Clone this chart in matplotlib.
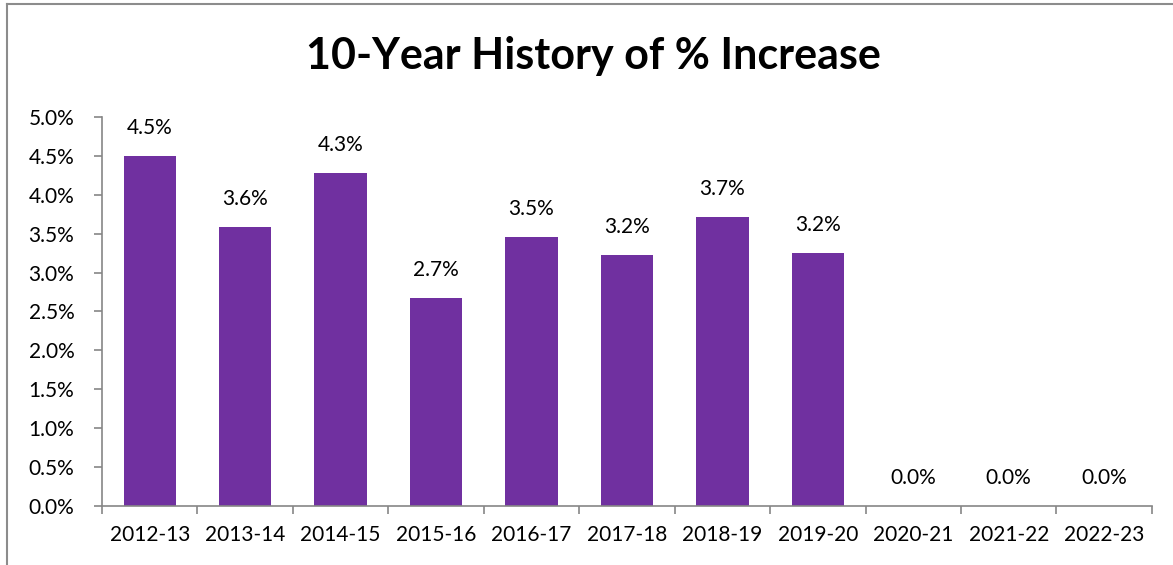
import matplotlib.pyplot as plt
import matplotlib.lines as mlines
import numpy as np
from matplotlib.ticker import FuncFormatter, FixedLocator

# data
years = ["2012-13", "2013-14", "2014-15", "2015-16", "2016-17", "2017-18",
         "2018-19", "2019-20", "2020-21", "2021-22", "2022-23"]
increase = [4.50, 3.59, 4.28, 2.67, 3.46, 3.23, 3.71, 3.25, 0.0, 0.0, 0.0]

plt.rcParams['font.family'] = ['Lato', 'DejaVu Sans']

fig = plt.figure(figsize=(11.73, 5.65), dpi=100)
ax = fig.add_axes([0.087, 0.1044, 0.895, 0.6886])

x = np.arange(len(years))
bars = ax.bar(x, increase, width=0.55, color="#7030A0")

# value labels above bars
for xi, v in zip(x, increase):
    ax.annotate(f"{v:.1f}%", (xi, v), xytext=(0, 13), textcoords="offset points",
                ha="center", va="bottom", fontsize=15)

ax.set_xlim(-0.5, len(years) - 0.5)
ax.set_ylim(0, 5.0)
ax.set_yticks(np.arange(0, 5.01, 0.5))
ax.yaxis.set_major_formatter(FuncFormatter(lambda v, p: f"{v:.1f}%"))

ax.set_xticks(x)
ax.set_xticklabels(years)
ax.xaxis.set_minor_locator(FixedLocator(np.arange(-0.5, len(years), 1.0)))

for s in ["top", "right"]:
    ax.spines[s].set_visible(False)
for s in ["left", "bottom"]:
    ax.spines[s].set_color("#868686")
    ax.spines[s].set_linewidth(1.2)

ax.tick_params(axis="y", length=6, width=1.2, color="#868686", pad=14, labelsize=15)
ax.tick_params(axis="x", which="major", length=0, pad=14, labelsize=15)
ax.tick_params(axis="x", which="minor", length=6, width=1.2, color="#868686")

fig.text(0.506, 0.90, "10-Year History of % Increase", ha="center", va="center",
         fontsize=31, fontweight="bold")

# chart border (top and left edges visible)
fig.add_artist(mlines.Line2D([7 / 1173, 1], [1 - 4 / 565, 1 - 4 / 565],
                             color="#8c8c8c", linewidth=1.5))
fig.add_artist(mlines.Line2D([7 / 1173, 7 / 1173], [0, 1 - 4 / 565],
                             color="#8c8c8c", linewidth=1.5))

fig.savefig("out.png", dpi=100, facecolor="white")
